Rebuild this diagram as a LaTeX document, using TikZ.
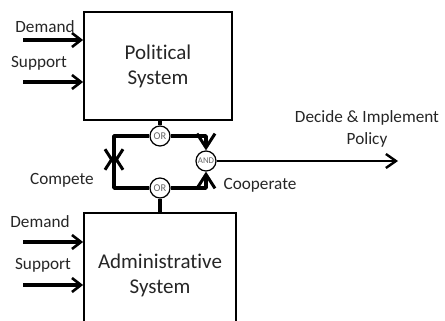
\documentclass[tikz,border=0pt]{standalone}
\usepackage{fontspec}
\setmainfont[Ligatures=NoCommon]{Carlito}
\usetikzlibrary{arrows.meta}

\begin{document}
\begin{tikzpicture}[x=0.5pt, y=-0.5pt,
            sysbox/.style = {draw, line width=0.9pt, align=center, inner sep=0pt,
                             font=\fontsize{10.5}{12.5}\selectfont, text=black!85},
            gate/.style   = {draw, circle, fill=white, line width=0.6pt, minimum size=10pt,
                             inner sep=0pt, text=black!60},
            lbl/.style    = {font=\fontsize{8.6}{11}\selectfont, text=black!85, align=center},
            flow/.style   = {line width=1.6pt, -{Straight Barb[length=4.5pt, width=7pt, line width=1.3pt]}},
            loop/.style   = {line width=1.7pt, line join=round},
            tip/.style    = {-{Straight Barb[length=7pt, width=9pt, line width=1.5pt]}}
                        ]
            \useasboundingbox (0,0) rectangle (445,321);
            \clip (0,0) rectangle (445,321);
            % systems
            \node[sysbox, minimum width=74pt, minimum height=54pt] (political) at (158,66) {Political\\System};
            \node[sysbox, minimum width=76pt, minimum height=62pt] (admin) at (160,275) {Administrative\\System};
            % inputs
            \coordinate (dmdP) at (23,40);
            \coordinate (supP) at (23,82);
            \coordinate (dmdA) at (23,242);
            \coordinate (supA) at (23,285);
            \draw[flow] (dmdP) -- (dmdP -| political.west);
            \draw[flow] (supP) -- (supP -| political.west);
            \draw[flow] (dmdA) -- (dmdA -| admin.west);
            \draw[flow] (supA) -- (supA -| admin.west);
            \node[lbl] (dmdPtxt) at (45,27) {Demand};
            \node[lbl] (supPtxt) at (39,63) {Support};
            \node[lbl] (dmdAtxt) at (40,222) {Demand};
            \node[lbl] (supAtxt) at (43,265) {Support};
            % gates
            \node[gate, font=\fontsize{5.2}{6}\selectfont] (orTop) at (160,136) {OR};
            \node[gate, font=\fontsize{5.2}{6}\selectfont] (orBot) at (160,188) {OR};
            \node[gate, font=\fontsize{4.4}{5}\selectfont] (andGate) at (206,161) {AND};
            \coordinate (cmpDown) at (114,166);
            \coordinate (cmpUp) at (114,153);
            \coordinate (out) at (398,161);
            % loop
            \draw[loop] (orTop.north) -- (orTop.north |- political.south);
            \draw[loop] (orBot.south) -- (orBot.south |- admin.north);
            \draw[loop, tip] (orTop.west) -| (cmpDown);
            \draw[loop, tip] (orBot.west) -- (orBot.west -| cmpUp) -- (cmpUp);
            \draw[loop, tip] (orTop.east) -| (andGate.north);
            \draw[loop, tip] (orBot.east) -- (orBot.east -| andGate.south) -- (andGate.south);
            % output
            \draw[line width=1.3pt, -{Straight Barb[length=5pt, width=7pt, line width=1.2pt]}] (andGate.east) -- (out);
            \node[lbl] (policy) at (367,129) {Decide \& Implement\\Policy};
            \node[lbl] (compete) at (62,180) {Compete};
            \node[lbl] (coop) at (260,185) {Cooperate};
\end{tikzpicture}
\end{document}
